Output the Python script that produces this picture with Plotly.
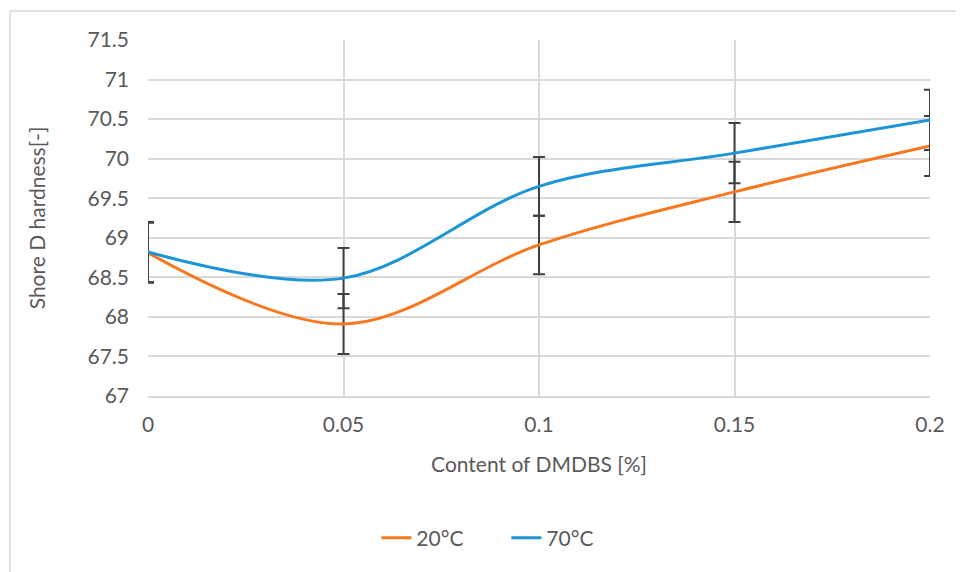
import plotly.graph_objects as go

content = [0, 0.05, 0.1, 0.15, 0.2]
hard_20 = [68.81, 67.91, 68.91, 69.58, 70.16]
err_20 = [0.38, 0.38, 0.37, 0.38, 0.38]
hard_70 = [68.82, 68.49, 69.65, 70.07, 70.49]
err_70 = [0.38, 0.38, 0.37, 0.38, 0.38]

x_ticks = [0, 0.05, 0.1, 0.15, 0.2]
x_labels = ["0", "0.05", "0.1", "0.15", "0.2"]
y_ticks = [67, 67.5, 68, 68.5, 69, 69.5, 70, 70.5, 71, 71.5]
y_labels = ["67", "67.5", "68", "68.5", "69", "69.5", "70", "70.5", "71", "71.5"]

FONT = "Lato, 'Open Sans', sans-serif"
TXT = "#595959"
GRID = "#d9d9d9"
ERR = "#404040"

fig = go.Figure()
fig.add_trace(go.Scatter(
    x=content, y=hard_20, name="20°C", mode="lines",
    line=dict(color="#F7781F", width=3, shape="spline", smoothing=1),
    error_y=dict(type="data", array=err_20, visible=True, color=ERR, thickness=2, width=6),
))
fig.add_trace(go.Scatter(
    x=content, y=hard_70, name="70°C", mode="lines",
    line=dict(color="#1C95D6", width=3, shape="spline", smoothing=1),
    error_y=dict(type="data", array=err_70, visible=True, color=ERR, thickness=2, width=6),
))

# page body has an 8px default margin; plot area targets px 148..930 x 40..396
fig.update_layout(
    width=956, height=564,
    margin=dict(l=140, r=34, t=32, b=176),
    paper_bgcolor="white", plot_bgcolor="white",
    font=dict(family=FONT, size=21, color=TXT),
    showlegend=True,
    legend=dict(orientation="h", x=0.292, xanchor="left", y=-0.399, yanchor="middle",
                font=dict(family=FONT, size=21, color=TXT),
                entrywidth=85, entrywidthmode="pixels",
                traceorder="normal"),
    xaxis=dict(range=[0, 0.2], tickvals=x_ticks, ticktext=x_labels,
               showgrid=True, gridcolor=GRID, gridwidth=2, zeroline=False,
               showline=True, linecolor=GRID, linewidth=2, ticks="",
               ticklabelstandoff=9,
               title=dict(text="Content of DMDBS [%]", standoff=22,
                          font=dict(family=FONT, size=21, color=TXT))),
    yaxis=dict(range=[67, 71.5], tickvals=y_ticks, ticktext=y_labels,
               showgrid=True, gridcolor=GRID, gridwidth=2, zeroline=False,
               showline=False, ticks="", ticklabelstandoff=18,
               title=dict(text="Shore D hardness[-]", standoff=36,
                          font=dict(family=FONT, size=21, color=TXT))),
    shapes=[
        dict(type="line", xref="paper", yref="paper",
             x0=(10 - 148) / 782, x1=1.06, y0=(396 - 11) / 356, y1=(396 - 11) / 356,
             line=dict(color=GRID, width=1.5)),
        dict(type="line", xref="paper", yref="paper",
             x0=(10 - 148) / 782, x1=(10 - 148) / 782, y0=(396 - 11) / 356, y1=-0.5,
             line=dict(color=GRID, width=1.5)),
    ],
)

fig.write_html("out.html")
